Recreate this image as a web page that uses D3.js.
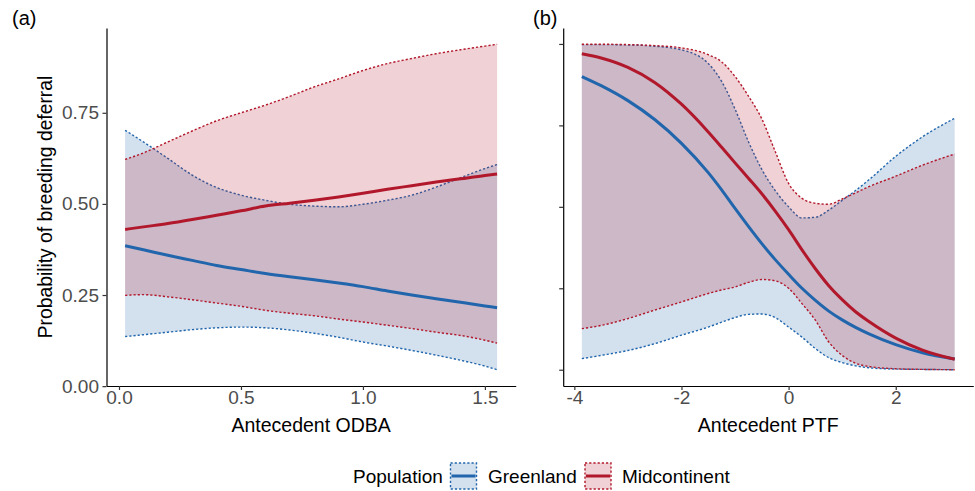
<!DOCTYPE html>
<html>
<head>
<meta charset="utf-8">
<script src="https://cdn.jsdelivr.net/npm/d3@7"></script>
<style>
  body { margin: 0; background: #fff; }
  svg { font-family: "Liberation Sans", Arial, sans-serif; }
</style>
</head>
<body>
<svg id="chart" width="975" height="491"></svg>
<script>
// population names & colours
const populations = ["Greenland", "Midcontinent"];
const popColors = { Greenland: "#2166AC", Midcontinent: "#B2182B" };

// panel (a): antecedent ODBA
const odbaX = [0.025, 0.1, 0.2, 0.3, 0.4, 0.5, 0.6, 0.7, 0.8, 0.9, 1.0, 1.1, 1.2, 1.3, 1.4, 1.5, 1.55];
const odbaGreenFit = [0.385, 0.374, 0.359, 0.345, 0.331, 0.320, 0.309, 0.300, 0.292, 0.283, 0.273, 0.261, 0.250, 0.240, 0.230, 0.220, 0.215];
const odbaGreenLow = [0.136, 0.141, 0.148, 0.155, 0.160, 0.162, 0.160, 0.154, 0.145, 0.134, 0.121, 0.110, 0.098, 0.085, 0.071, 0.055, 0.045];
const odbaGreenHigh = [0.702, 0.670, 0.625, 0.579, 0.545, 0.524, 0.510, 0.499, 0.494, 0.492, 0.499, 0.510, 0.524, 0.546, 0.572, 0.597, 0.608];
const odbaMidFit = [0.430, 0.437, 0.446, 0.457, 0.469, 0.481, 0.494, 0.502, 0.510, 0.519, 0.529, 0.540, 0.550, 0.560, 0.569, 0.578, 0.582];
const odbaMidLow = [0.249, 0.251, 0.245, 0.237, 0.228, 0.219, 0.208, 0.200, 0.193, 0.184, 0.176, 0.167, 0.158, 0.148, 0.139, 0.126, 0.118];
const odbaMidHigh = [0.622, 0.640, 0.670, 0.700, 0.728, 0.750, 0.771, 0.795, 0.821, 0.843, 0.866, 0.885, 0.899, 0.912, 0.923, 0.933, 0.938];

// panel (b): antecedent PTF
const ptfX = [-3.86, -3.5, -3, -2.5, -2, -1.5, -1.25, -1, -0.75, -0.5, -0.25, 0, 0.25, 0.5, 0.75, 1, 1.25, 1.5, 2, 2.5, 3.1];
const ptfGreenFit = [0.900, 0.872, 0.826, 0.768, 0.695, 0.605, 0.552, 0.495, 0.440, 0.387, 0.338, 0.293, 0.250, 0.213, 0.180, 0.153, 0.130, 0.110, 0.077, 0.052, 0.033];
const ptfGreenLow = [0.034, 0.044, 0.059, 0.080, 0.106, 0.131, 0.146, 0.160, 0.170, 0.171, 0.160, 0.131, 0.100, 0.065, 0.037, 0.022, 0.012, 0.006, 0.002, 0.001, 0.000];
const ptfGreenHigh = [0.998, 0.998, 0.997, 0.993, 0.982, 0.940, 0.885, 0.800, 0.700, 0.615, 0.550, 0.500, 0.466, 0.468, 0.490, 0.520, 0.550, 0.583, 0.655, 0.715, 0.772];
const ptfMidFit = [0.970, 0.957, 0.928, 0.882, 0.815, 0.730, 0.683, 0.635, 0.588, 0.540, 0.487, 0.430, 0.368, 0.310, 0.258, 0.215, 0.178, 0.148, 0.097, 0.060, 0.032];
const ptfMidLow = [0.126, 0.136, 0.157, 0.183, 0.208, 0.234, 0.245, 0.254, 0.268, 0.277, 0.273, 0.250, 0.203, 0.152, 0.085, 0.044, 0.020, 0.010, 0.003, 0.001, 0.000];
const ptfMidHigh = [0.999, 0.999, 0.998, 0.995, 0.988, 0.967, 0.945, 0.900, 0.840, 0.770, 0.670, 0.572, 0.526, 0.511, 0.508, 0.524, 0.543, 0.562, 0.594, 0.628, 0.662];

const yTicksA = [0, 0.25, 0.5, 0.75];
const yTicksB = [0, 0.25, 0.5, 0.75, 1];
const xTicksA = [0, 0.5, 1, 1.5];
const xTicksB = [-4, -2, 0, 2];

function rows(xs, fit, low, high) {
  return xs.map((x, i) => ({ x: x, fit: fit[i], low: low[i], high: high[i] }));
}

const panels = [
  {
    tag: "(a)", tagX: 12, title: "Antecedent ODBA", xRange: [106.5, 515.7], xTicks: xTicksA,
    xFormat: d3.format(".1f"), yTicks: yTicksA, yFormat: d3.format(".2f"),
    series: {
      Greenland: rows(odbaX, odbaGreenFit, odbaGreenLow, odbaGreenHigh),
      Midcontinent: rows(odbaX, odbaMidFit, odbaMidLow, odbaMidHigh)
    }
  },
  {
    tag: "(b)", tagX: 533, title: "Antecedent PTF", xRange: [563.2, 973.3], xTicks: xTicksB,
    xFormat: d => String(d), yTicks: yTicksB, yFormat: () => "",
    series: {
      Greenland: rows(ptfX, ptfGreenFit, ptfGreenLow, ptfGreenHigh),
      Midcontinent: rows(ptfX, ptfMidFit, ptfMidLow, ptfMidHigh)
    }
  }
];

const svg = d3.select("#chart");
const panelTop = 28, panelBottom = 386;

// ggplot-style 5% expansion
function expand(ext) {
  const pad = (ext[1] - ext[0]) * 0.05;
  return [ext[0] - pad, ext[1] + pad];
}

panels.forEach(p => {
  const all = populations.flatMap(k => p.series[k]);
  const x = d3.scaleLinear().domain(expand(d3.extent(all, d => d.x))).range(p.xRange);
  const y = d3.scaleLinear()
    .domain(expand([d3.min(all, d => d.low), d3.max(all, d => d.high)]))
    .range([panelBottom, panelTop]);

  const g = svg.append("g");

  const area = d3.area().x(d => x(d.x)).y0(d => y(d.low)).y1(d => y(d.high)).curve(d3.curveMonotoneX);
  const lineOf = key => d3.line().x(d => x(d.x)).y(d => y(d[key])).curve(d3.curveMonotoneX);

  // ribbons with dotted edges
  populations.forEach(k => {
    const data = p.series[k];
    g.append("path").attr("d", area(data))
      .attr("fill", popColors[k]).attr("fill-opacity", 0.2);
    ["low", "high"].forEach(key => {
      g.append("path").attr("d", lineOf(key)(data))
        .attr("fill", "none").attr("stroke", popColors[k])
        .attr("stroke-width", 1.4).attr("stroke-dasharray", "2.2,2");
    });
  });

  // fitted lines
  populations.forEach(k => {
    g.append("path").attr("d", lineOf("fit")(p.series[k]))
      .attr("fill", "none").attr("stroke", popColors[k]).attr("stroke-width", 3);
  });

  // axes
  const xAxis = g.append("g").attr("transform", `translate(0,${panelBottom})`)
    .call(d3.axisBottom(x).tickValues(p.xTicks).tickFormat(p.xFormat).tickSize(4).tickSizeOuter(0).tickPadding(0.5));
  const yAxis = g.append("g").attr("transform", `translate(${p.xRange[0]},0)`)
    .call(d3.axisLeft(y).tickValues(p.yTicks).tickFormat(p.yFormat).tickSize(4).tickSizeOuter(0).tickPadding(3.5));

  [xAxis, yAxis].forEach(a => {
    a.select(".domain").attr("stroke", "#000").attr("stroke-width", 1.2);
    a.selectAll(".tick line").attr("stroke", "#333").attr("stroke-width", 1.2);
    a.selectAll(".tick text").attr("fill", "#4D4D4D").style("font-size", "19px")
      .style("font-family", "'Liberation Sans', Arial, sans-serif");
  });

  // axis title
  g.append("text").attr("x", (p.xRange[0] + p.xRange[1]) / 2).attr("y", 432)
    .attr("text-anchor", "middle").style("font-size", "19.5px").attr("fill", "#000")
    .text(p.title);

  // panel tag
  g.append("text").attr("x", p.tagX).attr("y", 25)
    .style("font-size", "20px").attr("fill", "#000").text(p.tag);
});

// y axis title
svg.append("text")
  .attr("transform", `translate(52,${(panelTop + panelBottom) / 2}) rotate(-90)`)
  .attr("text-anchor", "middle").style("font-size", "19.3px").attr("fill", "#000")
  .text("Probability of breeding deferral");

// legend
const legend = svg.append("g").attr("transform", "translate(0,476)");
legend.append("text").attr("x", 353).attr("y", 0).attr("dy", "0.35em")
  .style("font-size", "19px").text("Population");

const keyX = { Greenland: 450.5, Midcontinent: 585 };
const labelX = { Greenland: 488, Midcontinent: 622 };
populations.forEach(k => {
  const kg = legend.append("g").attr("transform", `translate(${keyX[k]},-13)`);
  kg.append("rect").attr("width", 26).attr("height", 26)
    .attr("fill", popColors[k]).attr("fill-opacity", 0.2)
    .attr("stroke", popColors[k]).attr("stroke-width", 1.4).attr("stroke-dasharray", "2.2,2");
  kg.append("line").attr("x1", 1).attr("x2", 25).attr("y1", 13).attr("y2", 13)
    .attr("stroke", popColors[k]).attr("stroke-width", 3);
  legend.append("text").attr("x", labelX[k]).attr("y", 0).attr("dy", "0.35em")
    .style("font-size", "19px").text(k);
});
</script>
</body>
</html>
